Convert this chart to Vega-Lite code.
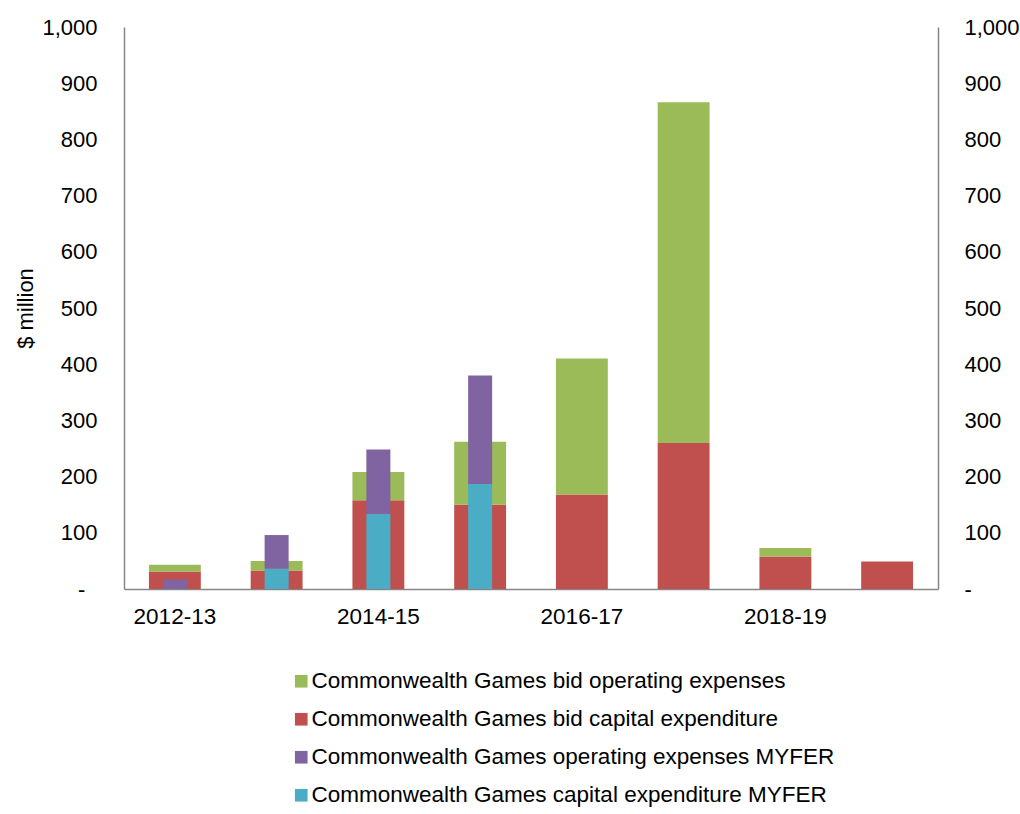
{
  "$schema": "https://vega.github.io/schema/vega-lite/v6.json",
  "width": 814,
  "height": 562,
  "autosize": {"type": "none"},
  "padding": {"left": 124, "top": 27, "right": 82, "bottom": 225},
  "background": "white",
  "config": {
    "font": "Liberation Sans",
    "view": {"stroke": null},
    "axis": {"grid": false, "ticks": false, "tickSize": 0, "domainColor": "#868686", "domainWidth": 1.5, "labelFont": "Liberation Sans", "labelFontSize": 22, "labelColor": "#000000", "titleFont": "Liberation Sans", "titleFontSize": 22, "titleFontWeight": "normal", "titleColor": "#000000"},
    "legend": {"labelFont": "Liberation Sans", "labelFontSize": 22.5, "labelColor": "#000000"}
  },
  "data": {
    "values": [
      {"year": "2012-13", "series": "Commonwealth Games bid capital expenditure", "group": "bid", "ord": 1, "value": 31},
      {"year": "2012-13", "series": "Commonwealth Games bid operating expenses", "group": "bid", "ord": 2, "value": 12},
      {"year": "2012-13", "series": "Commonwealth Games capital expenditure MYFER", "group": "myfer", "ord": 1, "value": 0},
      {"year": "2012-13", "series": "Commonwealth Games operating expenses MYFER", "group": "myfer", "ord": 2, "value": 17},
      {"year": "2013-14", "series": "Commonwealth Games bid capital expenditure", "group": "bid", "ord": 1, "value": 33},
      {"year": "2013-14", "series": "Commonwealth Games bid operating expenses", "group": "bid", "ord": 2, "value": 17},
      {"year": "2013-14", "series": "Commonwealth Games capital expenditure MYFER", "group": "myfer", "ord": 1, "value": 36},
      {"year": "2013-14", "series": "Commonwealth Games operating expenses MYFER", "group": "myfer", "ord": 2, "value": 60},
      {"year": "2014-15", "series": "Commonwealth Games bid capital expenditure", "group": "bid", "ord": 1, "value": 158},
      {"year": "2014-15", "series": "Commonwealth Games bid operating expenses", "group": "bid", "ord": 2, "value": 50},
      {"year": "2014-15", "series": "Commonwealth Games capital expenditure MYFER", "group": "myfer", "ord": 1, "value": 134},
      {"year": "2014-15", "series": "Commonwealth Games operating expenses MYFER", "group": "myfer", "ord": 2, "value": 114},
      {"year": "2015-16", "series": "Commonwealth Games bid capital expenditure", "group": "bid", "ord": 1, "value": 150},
      {"year": "2015-16", "series": "Commonwealth Games bid operating expenses", "group": "bid", "ord": 2, "value": 112},
      {"year": "2015-16", "series": "Commonwealth Games capital expenditure MYFER", "group": "myfer", "ord": 1, "value": 187},
      {"year": "2015-16", "series": "Commonwealth Games operating expenses MYFER", "group": "myfer", "ord": 2, "value": 193},
      {"year": "2016-17", "series": "Commonwealth Games bid capital expenditure", "group": "bid", "ord": 1, "value": 168},
      {"year": "2016-17", "series": "Commonwealth Games bid operating expenses", "group": "bid", "ord": 2, "value": 242},
      {"year": "2017-18", "series": "Commonwealth Games bid capital expenditure", "group": "bid", "ord": 1, "value": 260},
      {"year": "2017-18", "series": "Commonwealth Games bid operating expenses", "group": "bid", "ord": 2, "value": 606},
      {"year": "2018-19", "series": "Commonwealth Games bid capital expenditure", "group": "bid", "ord": 1, "value": 58},
      {"year": "2018-19", "series": "Commonwealth Games bid operating expenses", "group": "bid", "ord": 2, "value": 15},
      {"year": "2019-20", "series": "Commonwealth Games bid capital expenditure", "group": "bid", "ord": 1, "value": 49}
    ]
  },
  "encoding": {
    "x": {
      "field": "year", "type": "nominal",
      "scale": {"domain": ["2012-13","2013-14","2014-15","2015-16","2016-17","2017-18","2018-19","2019-20"], "paddingInner": 0, "paddingOuter": 0},
      "axis": {"title": null, "labelAngle": 0, "labelFontSize": 22.5, "labelPadding": 16, "values": ["2012-13","2014-15","2016-17","2018-19"]}
    },
    "color": {
      "field": "series", "type": "nominal",
      "scale": {
        "domain": ["Commonwealth Games bid operating expenses", "Commonwealth Games bid capital expenditure", "Commonwealth Games operating expenses MYFER", "Commonwealth Games capital expenditure MYFER"],
        "range": ["#9BBB59", "#C0504D", "#8064A2", "#4BACC6"]
      },
      "legend": {"title": null, "orient": "none", "legendX": 166, "legendY": 643, "direction": "vertical", "symbolType": "square", "symbolSize": 160, "symbolStrokeWidth": 0, "symbolOpacity": 1, "labelOffset": -1, "rowPadding": 15, "padding": 0, "labelLimit": 700}
    },
    "order": {"field": "ord", "type": "quantitative", "sort": "ascending"}
  },
  "layer": [
    {
      "transform": [{"filter": "datum.group == 'bid'"}],
      "mark": {"type": "bar", "width": {"band": 0.51}},
      "encoding": {
        "y": {
          "field": "value", "type": "quantitative", "stack": "zero",
          "scale": {"domain": [0, 1000], "nice": false},
          "axis": {"orient": "left", "title": "$ million", "values": [0,100,200,300,400,500,600,700,800,900,1000], "labelPadding": 27, "labelExpr": "datum.value == 0 ? '-\u00a0\u00a0\u200b' : format(datum.value, ',')", "titleX": -99, "titleY": 281, "titleAngle": -90, "titleBaseline": "middle", "titleAlign": "center"}
        }
      }
    },
    {
      "transform": [{"filter": "datum.group == 'myfer'"}],
      "mark": {"type": "bar", "width": {"band": 0.236}},
      "encoding": {
        "y": {
          "field": "value", "type": "quantitative", "stack": "zero",
          "scale": {"domain": [0, 1000], "nice": false},
          "axis": {"orient": "right", "title": null, "values": [0,100,200,300,400,500,600,700,800,900,1000], "labelPadding": 26, "labelExpr": "datum.value == 0 ? '-' : format(datum.value, ',')"}
        }
      }
    }
  ],
  "resolve": {"scale": {"y": "shared"}, "axis": {"y": "independent"}}
}
